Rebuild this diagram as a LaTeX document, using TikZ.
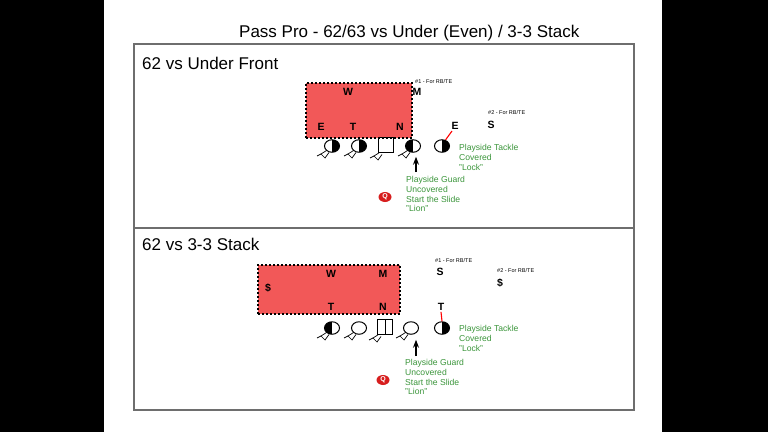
\documentclass[tikz,border=0pt]{standalone}
\usepackage{fontspec}
\setmainfont{Liberation Sans}
\usetikzlibrary{shapes.geometric,arrows.meta}
\definecolor{zonered}{RGB}{242,88,88}
\definecolor{notegreen}{RGB}{60,150,60}
\definecolor{qred}{RGB}{215,30,30}
\definecolor{framegray}{RGB}{110,110,110}
\tikzset{
 lineman/.style={ellipse, draw, line width=1pt, minimum width=15pt, minimum height=12.5pt, inner sep=0pt},
 centerman/.style={rectangle, draw, line width=1pt, minimum width=15pt, minimum height=15pt, inner sep=0pt},
 rblack/.style={path picture={\fill[black] (path picture bounding box.north) rectangle (path picture bounding box.south east);}},
 lblack/.style={path picture={\fill[black] (path picture bounding box.north west) rectangle (path picture bounding box.south);}},
 splitbox/.style={path picture={\draw[line width=1pt] (path picture bounding box.north) -- (path picture bounding box.south);}},
 zonebox/.style={rectangle, fill=zonered, draw=black, line width=2pt, dash pattern=on 2pt off 2pt, anchor=north west, inner sep=0pt},
 defl/.style={font=\fontsize{10.5}{11}\selectfont\bfseries, inner sep=0pt},
 tagl/.style={font=\fontsize{5.5}{6}\selectfont, inner sep=0pt, anchor=west},
 notel/.style={text=notegreen, font=\fontsize{8.6}{9.8}\selectfont, align=left, anchor=north west, inner sep=0pt},
 qb/.style={ellipse, fill=qred, text=white, font=\fontsize{7}{7}\selectfont\bfseries, minimum width=13pt, minimum height=10pt, inner sep=0pt},
 heading/.style={font=\fontsize{17}{20}\selectfont, anchor=base west, inner sep=0pt},
 pointer/.style={-{Stealth[length=8pt,width=6pt]}, line width=1.2pt},
 rush/.style={draw=red, line width=1.1pt},
 pics/stance/.style={code={
   \draw[line width=0.7pt] (-5.5,4.5) -- (-11,8) -- (-7,12) -- (-3,6.5);
   \draw[line width=0.7pt] (-11,8) -- (-15,10);
 }},
}
\begin{document}
\begin{tikzpicture}[x=1pt,y=-1pt]
\fill[black] (0,0) rectangle (768,432);
\fill[white] (104,0) rectangle (662,432);
\draw[framegray, line width=1.2pt] (134,44) rectangle (634,410);
\draw[framegray, line width=1.2pt] (134,228) -- (634,228);

\node[heading] (title) at (239,37) {Pass Pro - 62/63 vs Under (Even) / 3-3 Stack};

% ---------- top panel ----------
\node[heading] (h1) at (142,69) {62 vs Under Front};
\node[zonebox, minimum width=106pt, minimum height=55pt] (z1) at (305,82) {};
\node[defl] (tW) at (348,92) {W};
\node[defl] (tM) at (417,92) {M};
\node[defl] (tE) at (321,127) {E};
\node[defl] (tT) at (353,127) {T};
\node[defl] (tN) at (400,127) {N};
\node[defl] (tE2) at (455,126) {E};
\node[defl] (tS) at (491,125) {S};
\node[tagl] (tag1) at (415,82) {\#1 - For RB/TE};
\node[tagl] (tag2) at (488,113) {\#2 - For RB/TE};

\node[lineman, rblack] (a1) at (332,146) {};
\node[lineman, rblack] (a2) at (359,146) {};
\node[centerman] (a3) at (386,145) {};
\node[lineman, lblack] (a4) at (413,146) {};
\node[lineman, rblack] (a5) at (442,146) {};
\pic at (a1) {stance};
\pic at (a2) {stance};
\pic at ([shift={(-1,3)}]a3.center) {stance};
\pic at (a4) {stance};
\coordinate (r1) at (452,131);
\draw[rush] (r1) -- (a5.60);

\coordinate (p1) at (416,172);
\draw[pointer, shorten >=4pt] (p1) -- (p1 |- a4.south);

\node[notel] (n1) at (459,144) {Playside Tackle\\Covered\\"Lock"};
\node[notel] (n2) at (406,176) {Playside Guard\\Uncovered\\Start the Slide\\"Lion"};
\node[qb] (q1) at (385,197) {Q};

% ---------- bottom panel ----------
\node[heading] (h2) at (142,250) {62 vs 3-3 Stack};
\node[zonebox, minimum width=142pt, minimum height=49pt] (z2) at (257,264) {};
\node[defl] (bW) at (331,274) {W};
\node[defl] (bM) at (383,274) {M};
\node[defl] (bD) at (268,288) {\$};
\node[defl] (bT) at (331,307) {T};
\node[defl] (bN) at (383,307) {N};
\node[defl] (bS) at (440,272) {S};
\node[defl] (bD2) at (500,283) {\$};
\node[defl] (bT2) at (441,307) {T};
\node[tagl] (tag3) at (435,261) {\#1 - For RB/TE};
\node[tagl] (tag4) at (497,271) {\#2 - For RB/TE};

\node[lineman, lblack] (b1) at (332,328) {};
\node[lineman] (b2) at (359,328) {};
\node[centerman, splitbox] (b3) at (385,327) {};
\node[lineman] (b4) at (411,328) {};
\node[lineman, rblack] (b5) at (442,328) {};
\pic at (b1) {stance};
\pic at (b2) {stance};
\pic at ([shift={(-1,3)}]b3.center) {stance};
\pic at (b4) {stance};
\draw[rush] ([yshift=-1pt]bT2.south) -- (b5.north);

\coordinate (p2) at (416,356);
\draw[pointer, shorten >=5pt] (p2) -- (p2 |- b4.south);

\node[notel] (n3) at (459,325) {Playside Tackle\\Covered\\"Lock"};
\node[notel] (n4) at (405,359) {Playside Guard\\Uncovered\\Start the Slide\\"Lion"};
\node[qb] (q2) at (383,380) {Q};
\end{tikzpicture}
\end{document}
